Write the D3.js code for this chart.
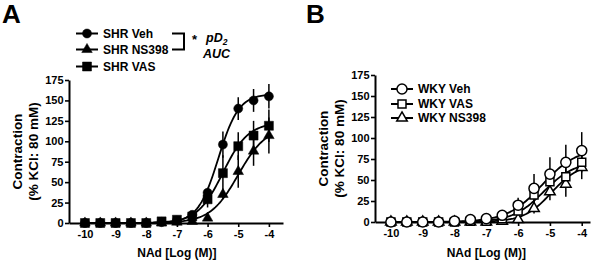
<!DOCTYPE html>
<html><head><meta charset="utf-8">
<script src="https://cdn.jsdelivr.net/npm/d3@7"></script>
<style>
body{margin:0;background:#fff;}
svg{display:block;font-family:"Liberation Sans",Arial,sans-serif;font-weight:bold;}
</style></head>
<body><svg id="c" width="600" height="262"></svg>
<script>
// ---- data ----
const logConc = [-10,-9.5,-9,-8.5,-8,-7.5,-7,-6.5,-6,-5.5,-5,-4.5,-4];
const xTickValues = [-10,-9,-8,-7,-6,-5,-4];
const yTickValues = [0,25,50,75,100,125,150,175];

const shrVehMean   = [0,0,0,0,0,1,3,10,37,96,140,150,155];
const shrVehSem    = [0,0,0,0,0,1,2,3,6,16,14,14,15];
const shrVasMean   = [0,0,0,0,0,2,4,8,29,61,94,107,119];
const shrVasSem    = [0,0,0,0,0,1,2,3,10,22,17,18,20];
const shrNsMean    = [0,0,0,0,0,0,1,2,6,35,63,88,107];
const shrNsSem     = [0,0,0,0,0,0,1,1,2,6,20,18,22];

const wkyVehMean   = [0,0,0,0,1,3,4,8,20,40,57,71,85];
const wkyVehSem    = [0,0,0,0,1,1,2,3,9,17,20,21,22];
const wkyVasMean   = [0,0,0,0,0,1,1,4,13,32,48,54,71];
const wkyVasSem    = [0,0,0,0,0,1,1,2,6,10,12,12,12];
const wkyNsMean    = [0,0,0,0,0,0,0,1,3,16,36,45,65];
const wkyNsSem     = [0,0,0,0,0,0,0,1,2,6,10,15,14];

// sigmoidal fit parameters [top, logEC50, hill] estimated from the drawn curves
const shrVehFit = [158,-5.65,1.3];
const shrVasFit = [123,-5.5,1.05];
const shrNsFit  = [118,-5.0,0.95];
const wkyVehFit = [88,-5.25,0.8];
const wkyVasFit = [72,-5.2,0.9];
const wkyNsFit  = [70,-4.95,1.0];

const legendA = ["SHR Veh","SHR NS398","SHR VAS"];
const legendB = ["WKY Veh","WKY VAS","WKY NS398"];

// ---- drawing ----
const svg = d3.select("#c");
const fitX = d3.range(-10, -3.999, 0.05);

function sig(p, x){ return p[0] / (1 + Math.pow(10, p[2]*(p[1]-x))); }

function panel(cfg){
  const g = svg.append("g");
  const x = d3.scaleLinear().domain(cfg.xDom).range(cfg.xRange);
  const y = d3.scaleLinear().domain([0,175]).range(cfg.yRange);

  // axes
  const xa = g.append("g").attr("transform",`translate(0,${cfg.yRange[0]})`)
    .call(d3.axisBottom(x).tickValues(xTickValues).tickSizeInner(4).tickSizeOuter(0).tickPadding(3).tickFormat(d=>String(d)));
  const ya = g.append("g").attr("transform",`translate(${cfg.xRange[0]},0)`)
    .call(d3.axisLeft(y).tickValues(yTickValues).tickSizeInner(4).tickSizeOuter(0).tickPadding(1.5));
  [xa,ya].forEach(a=>{
    a.select(".domain").attr("stroke","#000").attr("stroke-width",2);
    a.selectAll(".tick line").attr("stroke","#000").attr("stroke-width",1.6);
    a.selectAll(".tick text").attr("fill","#000").attr("font-size",11).attr("font-weight","bold").attr("font-family","Liberation Sans, Arial, sans-serif");
  });

  // axis titles
  const midX = (x(-10)+x(-4))/2;
  g.append("text").attr("x",midX).attr("y",257).attr("text-anchor","middle")
    .attr("font-size",12).text("NAd [Log (M)]");
  const midY = (cfg.yRange[0]+cfg.yRange[1])/2;
  g.append("text").attr("transform",`translate(${cfg.xRange[0]-52},${midY}) rotate(-90)`)
    .attr("text-anchor","middle").attr("dy","0.35em").attr("font-size",13.5).text("Contraction");
  g.append("text").attr("transform",`translate(${cfg.xRange[0]-36},${midY}) rotate(-90)`)
    .attr("text-anchor","middle").attr("dy","0.35em").attr("font-size",13.5).text("(% KCl: 80 mM)");

  // panel label
  g.append("text").attr("x",cfg.labelX).attr("y",23).attr("font-size",26).text(cfg.label);

  // curves
  cfg.series.forEach(s=>{
    g.append("path").attr("fill","none").attr("stroke","#000").attr("stroke-width",1.8)
      .attr("d", d3.line().x(d=>x(d)).y(d=>y(sig(s.fit,d)))(fitX));
  });
  // error bars
  cfg.series.forEach(s=>{
    g.append("g").selectAll("line").data(logConc).join("line")
      .attr("x1",d=>x(d)).attr("x2",d=>x(d))
      .attr("y1",(d,i)=>y(s.mean[i]+s.sem[i])).attr("y2",(d,i)=>y(Math.max(0,s.mean[i]-s.sem[i])))
      .attr("stroke","#000").attr("stroke-width",1.5);
  });
  // markers
  cfg.drawOrder.forEach(k=>{
    const s = cfg.series[k];
    g.append("g").selectAll("path").data(logConc).join("path")
      .attr("transform",(d,i)=>`translate(${x(d)},${y(s.mean[i])})`)
      .attr("d", d3.symbol().type(s.sym).size(s.size)())
      .attr("fill", cfg.open ? "#fff" : "#000")
      .attr("stroke","#000").attr("stroke-width", cfg.open ? 1.5 : 0.5);
  });

  // legend
  cfg.legendOrder.forEach((k,j)=>{
    const s = cfg.series[k];
    const ly = cfg.legY[j];
    const lg = g.append("g");
    lg.append("line").attr("x1",cfg.legX-11).attr("x2",cfg.legX+11).attr("y1",ly).attr("y2",ly)
      .attr("stroke","#000").attr("stroke-width",2);
    lg.append("path").attr("transform",`translate(${cfg.legX},${ly})`)
      .attr("d", d3.symbol().type(s.sym).size(s.size)())
      .attr("fill", cfg.open ? "#fff" : "#000").attr("stroke","#000").attr("stroke-width", cfg.open ? 1.5 : 0.5);
    lg.append("text").attr("x",cfg.legX+16).attr("y",ly).attr("dy","0.36em").attr("font-size",12)
      .text(cfg.legendNames[j]);
  });
  return g;
}

const gA = panel({
  label:"A", labelX:2,
  xDom:[-10.52,-3.54], xRange:[69,283], yRange:[223,80],
  open:false,
  series:[
    {mean:shrVehMean, sem:shrVehSem, fit:shrVehFit, sym:d3.symbolCircle, size:64},
    {mean:shrNsMean,  sem:shrNsSem,  fit:shrNsFit,  sym:d3.symbolTriangle, size:48},
    {mean:shrVasMean, sem:shrVasSem, fit:shrVasFit, sym:d3.symbolSquare, size:81}
  ],
  drawOrder:[1,0,2],
  legendOrder:[0,1,2], legendNames:legendA,
  legX:87, legY:[33.5,49.5,66.5]
});

// significance bracket
gA.append("path").attr("d","M172,33.5H184V49.5H172").attr("fill","none").attr("stroke","#000").attr("stroke-width",2);
gA.append("text").attr("x",192).attr("y",44).attr("font-size",13).text("*");
const pd = gA.append("text").attr("x",206).attr("y",42).attr("font-size",12.5).attr("font-style","italic");
pd.append("tspan").text("pD");
pd.append("tspan").attr("font-size",8.5).attr("dy",3).text("2");
gA.append("text").attr("x",203).attr("y",58).attr("font-size",12.5).attr("font-style","italic").text("AUC");

panel({
  label:"B", labelX:306,
  xDom:[-10.5,-3.74], xRange:[375,590], yRange:[222,75],
  open:true,
  series:[
    {mean:wkyVehMean, sem:wkyVehSem, fit:wkyVehFit, sym:d3.symbolCircle, size:80},
    {mean:wkyVasMean, sem:wkyVasSem, fit:wkyVasFit, sym:d3.symbolSquare, size:64},
    {mean:wkyNsMean,  sem:wkyNsSem,  fit:wkyNsFit,  sym:d3.symbolTriangle, size:48}
  ],
  drawOrder:[2,1,0],
  legendOrder:[0,1,2], legendNames:legendB,
  legX:402, legY:[89,104,118]
});
</script></body></html>
